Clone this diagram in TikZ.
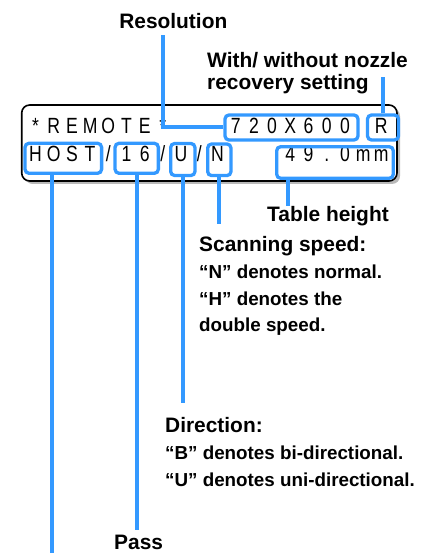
\documentclass[tikz,border=0pt]{standalone}
\usepackage{fontspec}
\setmainfont{Liberation Sans}
\newfontfamily\lcdfont[FakeStretch=0.8]{Liberation Sans}
\usepackage{xcolor}
\definecolor{colLead}{RGB}{51,153,255}
\colorlet{colShadow}{gray!55}
\usepackage{tikz}
\usetikzlibrary{shadows}

\tikzset{
  lcd/.style={draw=black, line width=1.6pt, rounded corners=8pt, fill=white,
    drop shadow={shadow xshift=3pt, shadow yshift=-3pt, fill=colShadow, opacity=1}},
  lcdchar/.style={font=\lcdfont\fontsize{22}{22}\selectfont, inner sep=0pt, anchor=base},
  markbox/.style={draw=colLead, line width=3.3pt, rounded corners=4pt, inner sep=0pt},
  lead/.style={draw=colLead, line width=4pt},
  head/.style={font=\bfseries\fontsize{20.9}{24}\selectfont, inner sep=0pt, anchor=base west},
  body/.style={font=\bfseries\fontsize{18.8}{22}\selectfont, inner sep=0pt, anchor=base west},
}

\begin{document}
\begin{tikzpicture}[x=1pt, y=-1pt]
  \useasboundingbox (0,0) rectangle (426,553);

  % display panel
  \node[lcd, minimum width=375.3pt, minimum height=76pt] (lcd) at (209.35,143) {};

  % first row of the display
  \foreach \ch [count=\k from 0] in {*,R,E,M,O,T,E,*}
    \node[lcdchar] (ra\k) at ({35.5+18.2*\k},134) {\ch};
  \foreach \ch [count=\k from 11] in {7,2,0,X,6,0,0}
    \node[lcdchar] (ra\k) at ({35.5+18.2*\k},134) {\ch};
  \node[lcdchar] (ra19) at ({35.5+18.2*19},134) {R};

  % second row of the display
  \foreach \ch [count=\k from 0] in {H,O,S,T,/,1,6,/,U,/,N}
    \node[lcdchar] (rb\k) at ({35.5+18.2*\k},161.7) {\ch};
  \foreach \ch [count=\k from 14] in {4,9,.,0,m,m}
    \node[lcdchar] (rb\k) at ({35.5+18.2*\k},161.7) {\ch};

  % marked fields
  \node[markbox, minimum width=133pt, minimum height=25pt] (resbox) at (291.5,127.5) {};
  \node[markbox, minimum width=31pt, minimum height=25pt] (rbox) at (383,127.5) {};
  \node[markbox, minimum width=76.6pt, minimum height=30pt] (hostbox) at (63.3,158.3) {};
  \node[markbox, minimum width=43.3pt, minimum height=30pt] (passbox) at (136.7,158.3) {};
  \node[markbox, minimum width=24.3pt, minimum height=32pt] (dirbox) at (182.8,159.5) {};
  \node[markbox, minimum width=23.3pt, minimum height=31.6pt] (spdbox) at (219.3,159.8) {};
  \node[markbox, minimum width=116.6pt, minimum height=31.6pt] (hgtbox) at (335,162.5) {};

  % labels
  \node[head, anchor=base] (reslabel) at (173.3,28.3) {Resolution};
  \node[head] (nozlabel) at (207,67.7) {With/ without nozzle};
  \node[head] (nozlabelb) at (207,89.3) {recovery setting};
  \node[head] (hgtlabel) at (267,221.7) {Table height};
  \node[head] (spdlabel) at (199,251.7) {Scanning speed:};
  \foreach \txt [count=\i] in {“N” denotes normal., “H” denotes the, double speed.}
    \node[body] (spdtext\i) at (199,{251.7+26.7*\i}) {\txt};
  \node[head] (dirlabel) at (165,432.7) {Direction:};
  \foreach \txt [count=\i] in {“B” denotes bi-directional., “U” denotes uni-directional.}
    \node[body] (dirtext\i) at (165,{432.7+27*\i}) {\txt};
  \node[head] (passlabel) at (114,549) {Pass};

  % leaders
  \coordinate (resend) at (163,35);
  \coordinate (nozend) at (383,77.3);
  \coordinate (hostend) at (51.7,553);
  \coordinate (passend) at (136.7,530);
  \coordinate (dirend) at (182.8,403);
  \coordinate (spdend) at (219.3,224);
  \coordinate (hgtend) at (288.3,206);
  \draw[lead] (resbox.west) -| (resend);
  \draw[lead] (rbox.north) -- (nozend);
  \draw[lead] (hostend |- hostbox.south) -- (hostend);
  \draw[lead] (passbox.south) -- (passend);
  \draw[lead] (dirbox.south) -- (dirend);
  \draw[lead] (spdbox.south) -- (spdend);
  \draw[lead] (hgtend |- hgtbox.south) -- (hgtend);
\end{tikzpicture}
\end{document}
